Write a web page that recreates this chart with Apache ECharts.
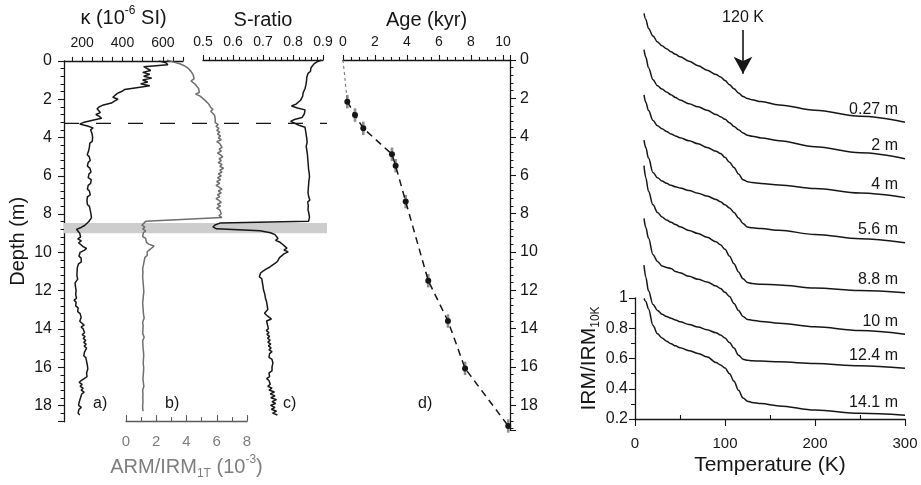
<!DOCTYPE html>
<html>
<head>
<meta charset="utf-8">
<script src="https://cdn.jsdelivr.net/npm/echarts@6/dist/echarts.min.js"></script>
<style>
  html, body { margin: 0; padding: 0; background: #ffffff; }
  #chart { width: 921px; height: 485px; }
</style>
</head>
<body>
<div id="chart"></div>
<script>
// ---------------- down-core logs, sampled every 0.1 m from 0 to 18.5 m ----------------
const logDepthStep = 0.1;

// magnetic susceptibility, 10^-6 SI
const kappaLog = [
  580, 615, 625, 505, 510, 540, 500, 535, 505, 545,
  500, 525, 490, 535, 470, 410, 395, 375, 368, 352,
  378, 360, 345, 305, 285, 274, 282, 290, 268, 285,
  296, 252, 210, 188, 226, 254, 242, 236, 249, 240,
  252, 243, 250, 238, 246, 236, 242, 232, 240, 225,
  235, 228, 240, 230, 236, 226, 238, 232, 244, 234,
  240, 230, 245, 236, 242, 230, 238, 226, 236, 228,
  240, 226, 234, 224, 232, 226, 236, 228, 240, 232,
  244, 236, 246, 238, 232, 226, 212, 195, 172, 165,
  188, 180, 192, 178, 196, 182, 190, 205, 222, 210,
  190, 198, 184, 195, 188, 196, 182, 190, 176, 168,
  175, 166, 174, 168, 178, 170, 165, 174, 167, 176,
  170, 178, 168, 162, 172, 160, 170, 176, 168, 180,
  185, 178, 190, 182, 195, 200, 188, 196, 210, 195,
  205, 198, 212, 200, 215, 205, 218, 208, 220, 210,
  222, 228, 212, 220, 208, 218, 212, 222, 214, 226,
  218, 228, 232, 222, 230, 224, 210, 195, 185, 200,
  190, 205, 195, 210, 198, 205, 192, 200, 186, 194,
  182, 196, 184, 192, 180, 188
];

// ARM / IRM(1T), 10^-3
const armIrmLog = [
  2.7, 3.1, 3.55, 3.85, 4.05, 4.0, 4.3, 4.2, 4.45, 4.35,
  4.5, 4.3, 4.45, 4.6, 4.55, 4.8, 4.7, 4.85, 4.6, 4.9,
  5.0, 5.2, 5.3, 5.45, 5.4, 5.6, 5.75, 5.6, 5.7, 5.85,
  5.75, 5.9, 6.0, 5.9, 6.1, 5.95, 6.15, 6.0, 6.2, 6.05,
  6.25, 6.1, 6.3, 6.0, 6.2, 6.1, 6.35, 6.15, 6.3, 6.05,
  6.25, 6.4, 6.15, 6.3, 6.1, 6.35, 6.2, 6.45, 6.2, 6.35,
  6.1, 6.3, 6.05, 6.25, 6.0, 6.2, 5.95, 6.15, 6.35, 6.1,
  6.3, 6.05, 6.2, 5.95, 6.15, 6.3, 6.05, 6.25, 6.0, 6.2,
  6.1, 6.3, 6.15, 6.35, 6.3, 1.3, 1.2, 1.05, 1.25, 1.1,
  1.3, 1.15, 1.25, 1.1, 1.3, 1.2, 1.35, 1.5, 1.85, 1.7,
  1.55, 1.4, 1.3, 1.4, 1.25, 1.35, 1.2, 1.3, 1.15, 1.2,
  1.1, 1.15, 1.12, 1.18, 1.1, 1.16, 1.12, 1.2, 1.14, 1.1,
  1.16, 1.12, 1.18, 1.1, 1.15, 1.2, 1.13, 1.17, 1.1, 1.16,
  1.12, 1.18, 1.14, 1.1, 1.16, 1.12, 1.2, 1.15, 1.1, 1.17,
  1.13, 1.18, 1.12, 1.16, 1.1, 1.15, 1.2, 1.14, 1.1, 1.16,
  1.12, 1.18, 1.13, 1.1, 1.16, 1.12, 1.17, 1.11, 1.15, 1.2,
  1.14, 1.1, 1.17, 1.12, 1.16, 1.1, 1.14, 1.19, 1.12, 1.1,
  1.15, 1.12, 1.18, 1.13, 1.1, 1.16, 1.12, 1.17, 1.11, 1.15,
  1.12, 1.16, 1.1, 1.14, 1.11, 1.13
];

// S-ratio
const sRatioLog = [
  0.895, 0.88, 0.87, 0.865, 0.86, 0.855, 0.858, 0.85, 0.852, 0.846,
  0.85, 0.845, 0.848, 0.843, 0.845, 0.84, 0.838, 0.834, 0.83, 0.832,
  0.828, 0.825, 0.822, 0.81, 0.795, 0.815, 0.84, 0.842, 0.838, 0.835,
  0.83, 0.805, 0.792, 0.79, 0.82, 0.84, 0.845, 0.842, 0.848, 0.844,
  0.85, 0.846, 0.852, 0.847, 0.85, 0.844, 0.849, 0.846, 0.852, 0.848,
  0.853, 0.849, 0.855, 0.85, 0.856, 0.851, 0.857, 0.852, 0.849, 0.854,
  0.85, 0.855, 0.849, 0.853, 0.848, 0.852, 0.847, 0.851, 0.855, 0.85,
  0.846, 0.852, 0.848, 0.856, 0.849, 0.845, 0.851, 0.856, 0.85, 0.846,
  0.853, 0.848, 0.855, 0.85, 0.852, 0.556, 0.54, 0.533, 0.545, 0.69,
  0.725, 0.74, 0.735, 0.75, 0.742, 0.757, 0.765, 0.772, 0.78, 0.77,
  0.784, 0.77, 0.765, 0.755, 0.76, 0.748, 0.74, 0.73, 0.722, 0.71,
  0.7, 0.692, 0.695, 0.688, 0.696, 0.69, 0.698, 0.692, 0.7, 0.694,
  0.702, 0.698, 0.706, 0.7, 0.708, 0.703, 0.712, 0.706, 0.714, 0.708,
  0.716, 0.71, 0.705, 0.712, 0.72, 0.728, 0.712, 0.706, 0.715, 0.709,
  0.718, 0.711, 0.72, 0.713, 0.722, 0.715, 0.724, 0.716, 0.726, 0.718,
  0.727, 0.72, 0.73, 0.722, 0.728, 0.72, 0.73, 0.724, 0.733, 0.738,
  0.73, 0.724, 0.73, 0.72, 0.715, 0.722, 0.712, 0.72, 0.714, 0.724,
  0.716, 0.73, 0.72, 0.738, 0.724, 0.74, 0.726, 0.745, 0.73, 0.742,
  0.725, 0.74, 0.728, 0.745, 0.732, 0.748
];

// dashed marker horizon and the grey layer (m)
const markerDepth = 3.3;
const greyLayer = [8.5, 9.03];

// ---------------- age model ----------------
const ageDepth = [2.17, 2.87, 3.56, 4.91, 5.51, 7.38, 11.5, 13.6, 16.07, 19.07];
const ageKyr   = [0.27, 0.75, 1.27, 3.06, 3.29, 3.92, 5.33, 6.56, 7.63, 10.33];
const ageDepthError = 0.35;

// ---------------- low-temperature IRM warming curves ----------------
const tempK = [10, 12, 15, 20, 25, 30, 35, 40, 45, 50, 60, 70, 80, 90, 95, 100, 105, 110, 115, 120, 125, 130, 140, 160, 200, 250, 300];
const sampleNames = ['0.27 m', '2 m', '4 m', '5.6 m', '8.8 m', '10 m', '12.4 m', '14.1 m'];
// vertical shift applied to each curve for clarity
const sampleShift = [1.89, 1.65, 1.35, 1.05, 0.88, 0.53, 0.22, 0];
const irm027 = [1.0, 0.96, 0.90, 0.85, 0.81, 0.785, 0.765, 0.745, 0.728, 0.712, 0.683, 0.653, 0.623, 0.595, 0.578, 0.555, 0.527, 0.5, 0.472, 0.449, 0.435, 0.427, 0.415, 0.393, 0.357, 0.317, 0.278];
const irm2   = [1.0, 0.95, 0.88, 0.80, 0.76, 0.738, 0.718, 0.70, 0.682, 0.665, 0.64, 0.62, 0.598, 0.57, 0.555, 0.537, 0.515, 0.49, 0.468, 0.447, 0.432, 0.425, 0.414, 0.395, 0.355, 0.315, 0.276];
const irm4   = [1.0, 0.95, 0.895, 0.83, 0.795, 0.775, 0.757, 0.74, 0.727, 0.715, 0.695, 0.675, 0.65, 0.625, 0.61, 0.585, 0.553, 0.518, 0.475, 0.437, 0.424, 0.418, 0.412, 0.402, 0.378, 0.348, 0.318];
const irm56  = [1.0, 0.95, 0.88, 0.785, 0.75, 0.728, 0.713, 0.70, 0.69, 0.682, 0.665, 0.647, 0.628, 0.606, 0.59, 0.57, 0.55, 0.52, 0.483, 0.447, 0.423, 0.418, 0.413, 0.401, 0.374, 0.345, 0.319];
const irm88  = [1.0, 0.92, 0.83, 0.74, 0.69, 0.66, 0.64, 0.625, 0.61, 0.595, 0.57, 0.55, 0.525, 0.495, 0.475, 0.445, 0.4, 0.35, 0.295, 0.25, 0.225, 0.218, 0.214, 0.209, 0.189, 0.172, 0.158];
const irm10  = [1.0, 0.94, 0.87, 0.76, 0.715, 0.685, 0.675, 0.668, 0.648, 0.64, 0.616, 0.597, 0.579, 0.552, 0.535, 0.51, 0.483, 0.436, 0.39, 0.35, 0.33, 0.325, 0.317, 0.305, 0.281, 0.257, 0.232];
const irm124 = [1.0, 0.92, 0.83, 0.74, 0.70, 0.675, 0.66, 0.648, 0.636, 0.625, 0.607, 0.59, 0.572, 0.552, 0.537, 0.517, 0.487, 0.45, 0.403, 0.377, 0.369, 0.366, 0.364, 0.359, 0.348, 0.333, 0.316];
const irm141 = [1.0, 0.98, 0.93, 0.82, 0.765, 0.737, 0.716, 0.699, 0.685, 0.673, 0.653, 0.635, 0.612, 0.575, 0.558, 0.538, 0.5, 0.45, 0.39, 0.34, 0.318, 0.31, 0.302, 0.287, 0.259, 0.238, 0.225];
const irmCurves = [irm027, irm2, irm4, irm56, irm88, irm10, irm124, irm141];
const verweyK = 120;

// ---------------- styling ----------------
const FONT = '"Liberation Sans", Arial, Helvetica, sans-serif';
const INK = '#161616';
const GREY = '#7d7d7d';
const DEPTH_MAX_LEFT = 18.85;

const logPairs = values => values.map((v, i) => [v, +(i * logDepthStep).toFixed(2)]);

const axisLineInk = { show: true, onZero: false, lineStyle: { color: INK, width: 1.3 } };
const tickInk = { show: true, length: 5, lineStyle: { color: INK, width: 1.1 } };
const minorInk = { show: true, length: 3, lineStyle: { color: INK, width: 1 } };
const labelInk = (size, margin) => ({ fontSize: size, color: INK, fontFamily: FONT, margin });
const richTitle = color => ({
  fontSize: 20, color, fontFamily: FONT, lineHeight: 26,
  rich: {
    sup: { fontSize: 12, color, fontFamily: FONT, verticalAlign: 'top', lineHeight: 26 },
    sub: { fontSize: 12, color, fontFamily: FONT, verticalAlign: 'bottom', lineHeight: 26 }
  }
});

const depthAxisCommon = {
  type: 'value', inverse: true, splitLine: { show: false }
};

const kappaTicks = [];
for (let k = 150; k <= 700; k += 50) kappaTicks.push(k);

const chart = echarts.init(document.getElementById('chart'), null, { renderer: 'canvas' });

const irmSeries = irmCurves.map((curve, idx) => ({
  type: 'line',
  name: sampleNames[idx],
  xAxisIndex: 5, yAxisIndex: 5,
  data: curve.map((v, i) => [tempK[i], v + sampleShift[idx]]),
  showSymbol: false,
  smooth: 0.35,
  smoothMonotone: 'x',
  lineStyle: { color: INK, width: 1.5 },
  z: 3,
  endLabel: {
    show: true,
    formatter: sampleNames[idx],
    fontSize: 16, color: INK, fontFamily: FONT,
    align: 'right',
    offset: [-15, -13]
  }
}));

// downward arrow marking the Verwey transition
irmSeries[0].markLine = {
  silent: true,
  symbol: ['none', 'arrow'],
  symbolSize: [14, 17],
  lineStyle: { color: INK, width: 1.6, type: 'solid' },
  label: { show: true, position: 'start', formatter: verweyK + ' K', fontSize: 16, color: INK, fontFamily: FONT, distance: 4 },
  data: [[{ coord: [verweyK, 2.78] }, { coord: [verweyK, 2.49] }]]
};

const option = {
  animation: false,
  backgroundColor: '#ffffff',
  textStyle: { fontFamily: FONT },
  grid: [
    { left: 64, top: 60, width: 119, height: DEPTH_MAX_LEFT * 19.19 },   // 0 susceptibility
    { left: 126, top: 60, width: 121, height: 365 },                     // 1 ARM/IRM
    { left: 203, top: 60, width: 120, height: DEPTH_MAX_LEFT * 19.19 },  // 2 S-ratio
    { left: 343, top: 60, width: 167, height: 19.3 * 19.19 },            // 3 age model
    { left: 64, top: 60, width: 263, height: DEPTH_MAX_LEFT * 19.19 },   // 4 horizon overlay
    { left: 635, top: 0, width: 270, height: 419 },                      // 5 IRM curves
    { left: 635, top: 298, width: 270, height: 121 }                     // 6 IRM axes
  ],
  xAxis: [
    { // 0 kappa
      gridIndex: 0, type: 'value', position: 'top', min: 110, max: 700,
      axisLine: axisLineInk,
      axisTick: Object.assign({}, tickInk, { customValues: kappaTicks, length: 4 }),
      axisLabel: Object.assign(labelInk(14, 11), { customValues: [200, 400, 600] }),
      splitLine: { show: false },
      name: 'κ (10{sup|-6} SI)', nameLocation: 'middle', nameGap: 26,
      nameTextStyle: richTitle(INK)
    },
    { // 1 ARM/IRM
      gridIndex: 1, type: 'value', position: 'bottom', min: 0, max: 8, interval: 2,
      axisLine: { show: true, onZero: false, lineStyle: { color: '#5a5a5a', width: 1.3 } },
      axisTick: { show: true, inside: true, length: 6, lineStyle: { color: '#5a5a5a', width: 1.1 } },
      minorTick: { show: true, splitNumber: 2, length: 4, lineStyle: { color: '#5a5a5a', width: 1 } },
      axisLabel: { fontSize: 15, color: GREY, fontFamily: FONT, margin: 13 },
      splitLine: { show: false }, minorSplitLine: { show: false },
      name: 'ARM/IRM{sub|1T} (10{sup|-3})', nameLocation: 'middle', nameGap: 31,
      nameTextStyle: richTitle(GREY)
    },
    { // 2 S-ratio
      gridIndex: 2, type: 'value', position: 'top', min: 0.5, max: 0.9, interval: 0.1,
      axisLine: axisLineInk, axisTick: tickInk,
      minorTick: Object.assign({}, minorInk, { splitNumber: 5 }),
      axisLabel: labelInk(14, 11),
      splitLine: { show: false }, minorSplitLine: { show: false },
      name: 'S-ratio', nameLocation: 'middle', nameGap: 29,
      nameTextStyle: { fontSize: 20, color: INK, fontFamily: FONT }
    },
    { // 3 age
      gridIndex: 3, type: 'value', position: 'top', min: 0, max: 10.44, interval: 2,
      axisLine: axisLineInk, axisTick: tickInk,
      minorTick: Object.assign({}, minorInk, { splitNumber: 4 }),
      axisLabel: Object.assign(labelInk(14, 11), { showMaxLabel: false }),
      splitLine: { show: false }, minorSplitLine: { show: false },
      name: 'Age (kyr)', nameLocation: 'middle', nameGap: 29,
      nameTextStyle: { fontSize: 20, color: INK, fontFamily: FONT }
    },
    { gridIndex: 4, type: 'value', min: 0, max: 1, show: false },
    { gridIndex: 5, type: 'value', min: 0, max: 300, show: false },
    { // 6 temperature
      gridIndex: 6, type: 'value', position: 'bottom', min: 0, max: 300, interval: 100,
      axisLine: axisLineInk,
      axisTick: { show: true, length: 7, lineStyle: { color: INK, width: 1.1 } },
      axisLabel: labelInk(15, 17),
      splitLine: { show: false },
      name: 'Temperature (K)', nameLocation: 'middle', nameGap: 36,
      nameTextStyle: { fontSize: 21, color: INK, fontFamily: FONT }
    },
    { // 7 inward minor ticks on the temperature axis
      gridIndex: 6, type: 'value', position: 'bottom', min: 0, max: 300,
      axisLine: { show: false },
      axisTick: { show: true, inside: true, length: 4, customValues: [50, 150, 250], lineStyle: { color: INK, width: 1.1 } },
      axisLabel: { show: false }, splitLine: { show: false }
    }
  ],
  yAxis: [
    Object.assign({}, depthAxisCommon, { // 0 depth (left)
      gridIndex: 0, position: 'left', min: 0, max: DEPTH_MAX_LEFT, interval: 2,
      axisLine: axisLineInk,
      axisTick: { show: true, length: 6, lineStyle: { color: INK, width: 1.1 } },
      minorTick: { show: true, splitNumber: 5, length: 3.5, lineStyle: { color: INK, width: 1 } },
      minorSplitLine: { show: false },
      axisLabel: Object.assign(labelInk(16, 12), { showMaxLabel: false }),
      name: 'Depth (m)', nameLocation: 'middle', nameGap: 36, nameRotate: 90,
      nameTextStyle: { fontSize: 20, color: INK, fontFamily: FONT }
    }),
    Object.assign({}, depthAxisCommon, { gridIndex: 1, min: 0, max: 365 / 19.19, show: false }),
    Object.assign({}, depthAxisCommon, { gridIndex: 2, min: 0, max: DEPTH_MAX_LEFT, show: false }),
    Object.assign({}, depthAxisCommon, { // 3 depth (right)
      gridIndex: 3, position: 'right', min: 0, max: 19.3, interval: 2,
      axisLine: axisLineInk,
      axisTick: { show: true, length: 6, lineStyle: { color: INK, width: 1.1 } },
      minorTick: { show: true, splitNumber: 5, length: 3.5, lineStyle: { color: INK, width: 1 } },
      minorSplitLine: { show: false },
      axisLabel: Object.assign(labelInk(16, 10), { showMaxLabel: false })
    }),
    Object.assign({}, depthAxisCommon, { gridIndex: 4, min: 0, max: DEPTH_MAX_LEFT, show: false }),
    { gridIndex: 5, type: 'value', min: 0.2, max: 0.2 + 419 / 150.8, show: false },
    { // 6 IRM/IRM10K
      gridIndex: 6, type: 'value', min: 0.2, max: 1, interval: 0.2,
      axisLine: axisLineInk,
      axisTick: { show: true, length: 6, lineStyle: { color: INK, width: 1.1 } },
      minorTick: { show: true, splitNumber: 2, length: 4, lineStyle: { color: INK, width: 1 } },
      axisLabel: labelInk(16, 7),
      splitLine: { show: false }, minorSplitLine: { show: false },
      name: 'IRM/IRM{sub|10K}', nameLocation: 'middle', nameGap: 30, nameRotate: 90,
      nameTextStyle: Object.assign(richTitle(INK), { fontSize: 21 })
    }
  ],
  series: [
    { // grey layer + dashed horizon across panels a-c
      type: 'line', xAxisIndex: 4, yAxisIndex: 4, z: 1,
      data: [[0, markerDepth], [1, markerDepth]],
      showSymbol: false,
      lineStyle: { color: INK, width: 1.3, type: [15, 17] },
      markArea: {
        silent: true,
        itemStyle: { color: '#cdcdcd' },
        data: [[{ xAxis: 0, yAxis: greyLayer[0] }, { xAxis: 1, yAxis: greyLayer[1] }]]
      }
    },
    {
      type: 'line', name: 'kappa', xAxisIndex: 0, yAxisIndex: 0, z: 3,
      data: logPairs(kappaLog), showSymbol: false,
      lineStyle: { color: INK, width: 1.5 }
    },
    {
      type: 'line', name: 'ARM/IRM', xAxisIndex: 1, yAxisIndex: 1, z: 3,
      data: logPairs(armIrmLog), showSymbol: false,
      lineStyle: { color: '#6e6e6e', width: 1.5 }
    },
    {
      type: 'line', name: 'S-ratio', xAxisIndex: 2, yAxisIndex: 2, z: 3,
      data: logPairs(sRatioLog), showSymbol: false,
      lineStyle: { color: INK, width: 1.5 }
    },
    { // surface to first dated level
      type: 'line', xAxisIndex: 3, yAxisIndex: 3, z: 2,
      data: [[0, 0], [ageKyr[0], ageDepth[0]]], showSymbol: false,
      lineStyle: { color: '#6a6a6a', width: 1, type: [3, 3] }
    },
    { // depth uncertainty bars
      type: 'custom', xAxisIndex: 3, yAxisIndex: 3, z: 2,
      data: ageDepth.map((d, i) => [ageKyr[i], d]),
      renderItem(params, api) {
        const a = api.coord([api.value(0), api.value(1) - ageDepthError]);
        const b = api.coord([api.value(0), api.value(1) + ageDepthError]);
        return { type: 'line', shape: { x1: a[0], y1: a[1], x2: b[0], y2: b[1] }, style: { stroke: '#8e8e8e', lineWidth: 2.6 } };
      }
    },
    {
      type: 'line', name: 'age', xAxisIndex: 3, yAxisIndex: 3, z: 3,
      data: ageDepth.map((d, i) => [ageKyr[i], d]),
      symbol: 'circle', symbolSize: 6, showSymbol: true,
      itemStyle: { color: INK },
      lineStyle: { color: INK, width: 1.5, type: [7, 5] }
    }
  ].concat(irmSeries),
  graphic: [
    { type: 'text', left: 93, top: 396, style: { text: 'a)', fontSize: 16, fill: INK, fontFamily: FONT } },
    { type: 'text', left: 165, top: 396, style: { text: 'b)', fontSize: 16, fill: INK, fontFamily: FONT } },
    { type: 'text', left: 283, top: 396, style: { text: 'c)', fontSize: 16, fill: INK, fontFamily: FONT } },
    { type: 'text', left: 418, top: 396, style: { text: 'd)', fontSize: 16, fill: INK, fontFamily: FONT } }
  ]
};

chart.setOption(option);
</script>
</body>
</html>
